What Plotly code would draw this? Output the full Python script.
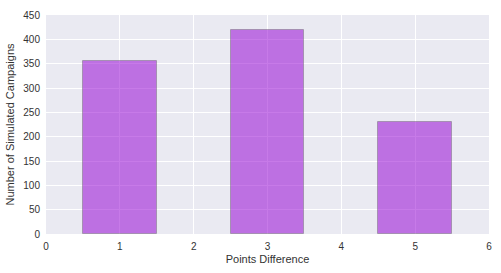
import plotly.graph_objects as go

points_diff = [1, 3, 5]
campaigns = [356, 419, 230]
x_ticks = [0, 1, 2, 3, 4, 5, 6]
y_ticks = [0, 50, 100, 150, 200, 250, 300, 350, 400, 450]

fig = go.Figure()
fig.add_trace(go.Bar(
    x=points_diff, y=campaigns, width=1,
    marker=dict(color="rgba(148,0,211,0.52)",
                line=dict(color="rgba(110,110,110,0.45)", width=1)),
))

font = dict(family="Liberation Sans, Arial, sans-serif", size=10, color="#333333")
fig.update_layout(
    width=501, height=273,
    margin=dict(l=46, r=9, t=13, b=39),
    paper_bgcolor="white", plot_bgcolor="#EAEAF2",
    showlegend=False, font=font, bargap=0,
)
fig.update_xaxes(range=[0, 6], tickvals=x_ticks, showgrid=True, gridcolor="white",
                 gridwidth=1, zeroline=False, ticks="", ticklen=0, ticklabelstandoff=5,
                 title=dict(text="Points Difference", font=dict(size=11), standoff=4),
                 showline=False)
fig.update_yaxes(range=[0, 450], tickvals=y_ticks, showgrid=True, gridcolor="white",
                 gridwidth=1, zeroline=False, ticks="", ticklen=0, ticklabelstandoff=5,
                 title=dict(text="Number of Simulated Campaigns", font=dict(size=11), standoff=6),
                 showline=False)
fig.write_html("out.html")
